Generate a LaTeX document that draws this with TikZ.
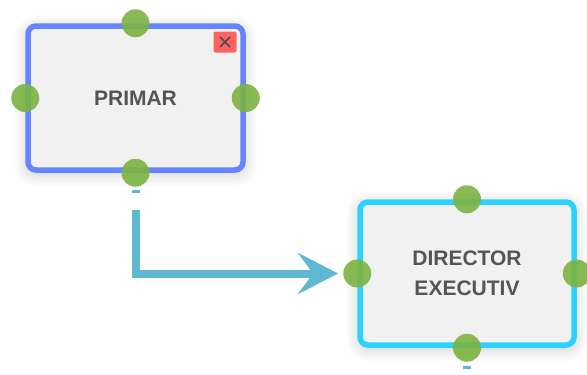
\documentclass[tikz,border=0pt]{standalone}
\usepackage{fontspec}
\setmainfont{Liberation Sans}
\usetikzlibrary{arrows.meta, positioning, shadows.blur}
\definecolor{primarblue}{RGB}{101,132,255}
\definecolor{execcyan}{RGB}{42,211,255}
\definecolor{boxgray}{RGB}{241,241,241}
\definecolor{handlegreen}{RGB}{124,179,66}
\definecolor{linkblue}{RGB}{94,184,208}
\definecolor{labelgray}{RGB}{85,85,85}
\definecolor{closered}{RGB}{255,98,98}
\begin{document}
\begin{tikzpicture}[
  x=1pt, y=-1pt,
  box/.style={rectangle, rounded corners=8pt, line width=5.5pt, fill=boxgray,
              minimum width=215pt, minimum height=144pt, align=center,
              font=\bfseries\fontsize{21}{30}\selectfont, text=labelgray,
              blur shadow={shadow xshift=0pt, shadow yshift=-3pt,
                           shadow blur radius=14pt, shadow blur steps=12,
                           shadow opacity=22}},
  handle/.style={circle, fill=handlegreen, fill opacity=0.9, minimum size=28pt, inner sep=0pt},
  tick/.style={rectangle, fill=linkblue, minimum width=8pt, minimum height=3pt, inner sep=0pt},
  arr/.style={-{Stealth[length=40pt, width=41pt, inset=15pt]}, line width=8pt, draw=linkblue},
  closebtn/.style={rectangle, rounded corners=2pt, fill=closered, minimum width=23pt,
                   minimum height=21pt, inner sep=0pt}
]
  \useasboundingbox (0,0) rectangle (587,375);

  %% -- Boxes
  \node[box, draw=primarblue] (primar) at (135.5,98) {PRIMAR};
  \node[box, draw=execcyan, minimum width=214pt, minimum height=143pt] (director) at (467,273.5) {DIRECTOR\\EXECUTIV};

  %% Close button
  \node[closebtn] (primar-x) at (225,42) {};
  \draw[black!70, line width=1.6pt] ([shift={(-5pt,-5pt)}]primar-x.center) -- ([shift={(5pt,5pt)}]primar-x.center);
  \draw[black!70, line width=1.6pt] ([shift={(-5pt,5pt)}]primar-x.center) -- ([shift={(5pt,-5pt)}]primar-x.center);

  %% Handles
  \node[handle] (primar-n) at (primar.north) {};
  \node[handle] (primar-w) at (primar.west)  {};
  \node[handle] (primar-e) at (primar.east)  {};
  \node[handle] (primar-s) at (primar.south) {};
  \node[handle] (director-n) at (director.north) {};
  \node[handle] (director-w) at (director.west)  {};
  \node[handle] (director-e) at (director.east)  {};
  \node[handle] (director-s) at (director.south) {};

  %% Small ticks under the boxes
  \node[tick] (primar-t)   at (135.5,191) {};
  \node[tick] (director-t) at (467,367.5) {};

  %% Connection
  \coordinate (start) at (135.5,210);
  \draw[arr, shorten >=5pt] (start) |- (director-w.west);

\end{tikzpicture}
\end{document}
